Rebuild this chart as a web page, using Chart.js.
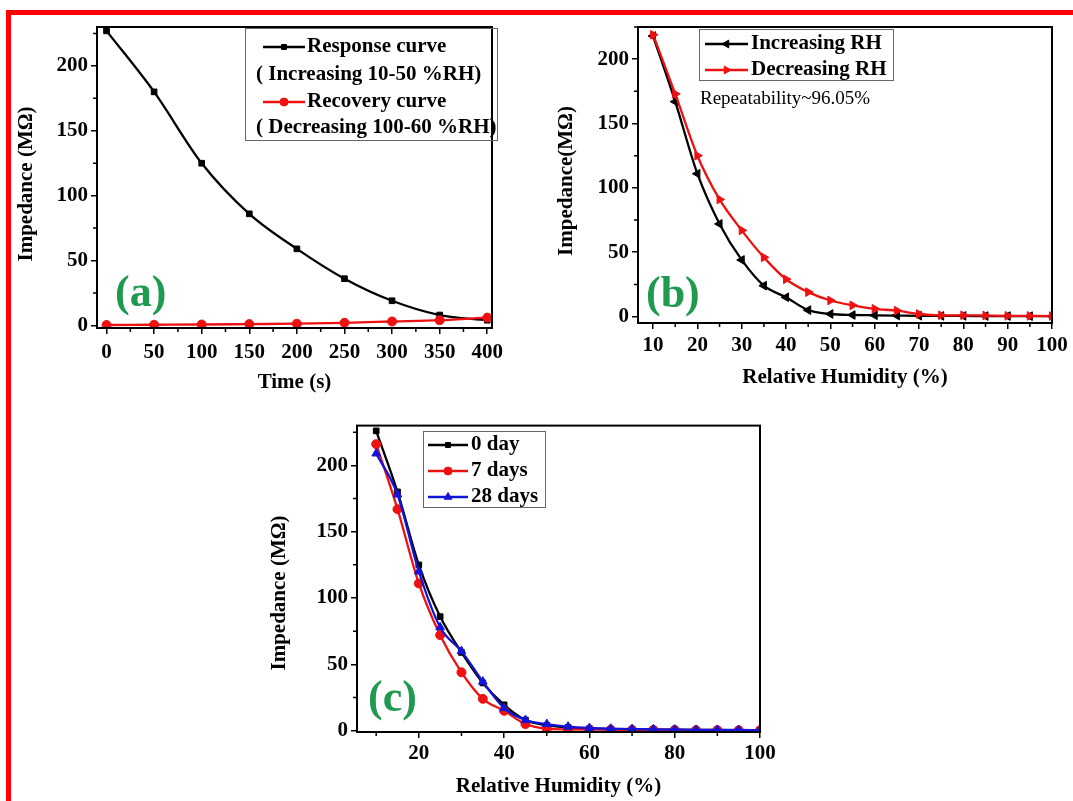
<!DOCTYPE html>
<html>
<head>
<meta charset="utf-8">
<script src="https://cdn.jsdelivr.net/npm/chart.js@4"></script>
<style>
    html, body { margin: 0; padding: 0; background: #fff; }
    body { width: 1073px; height: 801px; overflow: hidden; position: relative; }
    .cadre-rouge { position: absolute; left: 6px; top: 10px; width: 1200px; height: 900px;
                   border-top: 5px solid #ff0000; border-left: 5px solid #ff0000; }
    .bloc { position: absolute; }
</style>
</head>
<body>
<div class="cadre-rouge"></div>
<div class="bloc" style="left:0;top:0"><canvas id="graphiqueA" width="540" height="400"></canvas></div>
<div class="bloc" style="left:540px;top:0"><canvas id="graphiqueB" width="533" height="400"></canvas></div>
<div class="bloc" style="left:260px;top:410px"><canvas id="graphiqueC" width="520" height="391"></canvas></div>
<script>
// ── Données ────────────────────────────────────────────────────────────────

const temps          = [0, 50, 100, 150, 200, 250, 300, 350, 400];
const reponse        = [227, 180, 125, 86, 59, 36, 19, 8, 4];
const recuperation   = [0.3, 0.5, 0.7, 1.0, 1.3, 2.0, 3.0, 4.0, 6.0];

const humidite       = [10, 15, 20, 25, 30, 35, 40, 45, 50, 55, 60, 65, 70, 75, 80, 85, 90, 95, 100];
const rhMontante     = [218, 167, 111, 72, 44, 24, 15, 5, 2, 1.2, 1.0, 0.8, 0.6, 0.5, 0.5, 0.4, 0.4, 0.3, 0.3];
const rhDescendante  = [219, 173, 125, 91, 67, 46, 29, 19, 12.5, 8.7, 6, 4.6, 2, 1, 1, 0.8, 0.6, 0.5, 0.4];

const jour0          = [226, 180, 125, 86, 59, 36, 19.5, 8, 4, 2.5, 1.5, 1.2, 1, 0.8, 0.7, 0.6, 0.5, 0.4, 0.3];
const jour7          = [216, 167, 111, 72, 44, 24, 15, 5, 1.5, 1, 0.8, 0.7, 0.6, 0.5, 0.5, 0.4, 0.4, 0.3, 0.3];
const jour28         = [209, 178, 120, 78, 60, 37, 17, 8, 5, 3, 2, 1.5, 1.2, 1, 0.8, 0.6, 0.5, 0.5, 0.3];

const ticksTemps          = [0, 50, 100, 150, 200, 250, 300, 350, 400];
const ticksTempsMineurs   = [25, 75, 125, 175, 225, 275, 325, 375];
const ticksImpedance      = [0, 50, 100, 150, 200];
const ticksImpMineurs     = [25, 75, 125, 175, 225];
const ticksHumidite10     = [10, 20, 30, 40, 50, 60, 70, 80, 90, 100];
const ticksHumMineurs5    = [15, 25, 35, 45, 55, 65, 75, 85, 95];
const ticksHumidite20     = [20, 40, 60, 80, 100];
const ticksHumMineurs10   = [10, 30, 50, 70, 90];

const legendeA = ['Response curve', '( Increasing 10-50 %RH)', 'Recovery curve', '( Decreasing 100-60 %RH)'];
const legendeB = ['Increasing RH', 'Decreasing RH'];
const legendeC = ['0 day', '7 days', '28 days'];

// ── Styles communs ─────────────────────────────────────────────────────────

const SERIF = '"Liberation Serif", "DejaVu Serif", serif';
const policeGras = { family: SERIF, size: 21, weight: 'bold' };
const VERT = '#1f9a50';

const points = (xs, ys) => xs.map((x, i) => ({ x, y: ys[i] }));

function serie(label, donnees, couleur, style, rayon, rotation, ordre) {
    return {
        label, data: donnees,
        borderColor: couleur, backgroundColor: couleur,
        borderWidth: 2.3, pointStyle: style, pointRadius: rayon, pointRotation: rotation || 0,
        pointBorderWidth: 1, cubicInterpolationMode: 'monotone', order: ordre,
    };
}

function axeX(min, max, majeurs, titre, hauteur, padTitre, padTicks) {
    return {
        type: 'linear', min, max,
        afterBuildTicks: s => { s.ticks = majeurs.map(v => ({ value: v })); },
        afterFit: s => { s.height = hauteur; },
        grid: { drawOnChartArea: false, drawTicks: true, tickLength: 6, color: '#000', lineWidth: 1.5 },
        border: { display: true, color: '#000', width: 2 },
        ticks: { color: '#000', font: policeGras, padding: padTicks, autoSkip: false, maxRotation: 0 },
        title: { display: true, text: titre, color: '#000', font: policeGras, padding: { top: 0, bottom: padTitre } },
    };
}

function axeY(min, max, largeur) {
    return {
        type: 'linear', min, max,
        afterBuildTicks: s => { s.ticks = ticksImpedance.map(v => ({ value: v })); },
        afterFit: s => { s.width = largeur; },
        grid: { drawOnChartArea: false, drawTicks: true, tickLength: 6, color: '#000', lineWidth: 1.5 },
        border: { display: true, color: '#000', width: 2 },
        ticks: { color: '#000', font: policeGras, padding: 3, autoSkip: false },
    };
}

// cadre complet, petites graduations et titre vertical
const pluginCadre = {
    id: 'cadre',
    afterDraw(chart, args, opts) {
        const { ctx, chartArea: a, scales } = chart;
        ctx.save();
        ctx.strokeStyle = '#000';
        ctx.lineWidth = 2;
        ctx.strokeRect(a.left, a.top, a.right - a.left, a.bottom - a.top);
        ctx.lineWidth = 1.5;
        ctx.beginPath();
        (opts.mineursX || []).forEach(v => {
            const x = scales.x.getPixelForValue(v);
            ctx.moveTo(x, a.bottom); ctx.lineTo(x, a.bottom + 4);
        });
        (opts.mineursY || []).forEach(v => {
            if (v > scales.y.max) return;
            const y = scales.y.getPixelForValue(v);
            ctx.moveTo(a.left, y); ctx.lineTo(a.left - 4, y);
        });
        ctx.stroke();
        if (opts.titreY) {
            ctx.translate(opts.titreY.x, opts.titreY.y);
            ctx.rotate(-Math.PI / 2);
            ctx.font = `bold 21px ${SERIF}`;
            ctx.fillStyle = '#000';
            ctx.textAlign = 'center';
            ctx.textBaseline = 'middle';
            ctx.fillText(opts.titreY.texte, 0, 0);
        }
        ctx.restore();
    }
};

// légende encadrée, étiquette verte et annotations
const pluginLegende = {
    id: 'legende',
    afterDraw(chart, args, opts) {
        if (!opts.boite) return;
        const ctx = chart.ctx;
        const [bx, by, bw, bh] = opts.boite;
        ctx.save();
        ctx.strokeStyle = '#666';
        ctx.lineWidth = 1;
        ctx.strokeRect(bx + 0.5, by + 0.5, bw, bh);
        ctx.font = `bold 21px ${SERIF}`;
        ctx.textBaseline = 'middle';
        opts.lignes.forEach(l => {
            if (l.serie !== undefined) {
                const ds = chart.data.datasets[l.serie];
                const [x1, x2] = opts.echantillon;
                ctx.strokeStyle = ds.borderColor;
                ctx.lineWidth = 2.3;
                ctx.beginPath(); ctx.moveTo(x1, l.y); ctx.lineTo(x2, l.y); ctx.stroke();
                ctx.fillStyle = ds.backgroundColor;
                ctx.lineWidth = 1;
                Chart.helpers.drawPoint(ctx, {
                    pointStyle: ds.pointStyle, radius: ds.pointRadius - 0.5,
                    rotation: ds.pointRotation, borderWidth: 1,
                }, (x1 + x2) / 2, l.y);
            }
            ctx.fillStyle = '#000';
            ctx.fillText(l.texte, l.x, l.y);
        });
        if (opts.note) {
            ctx.font = `19px ${SERIF}`;
            ctx.fillText(opts.note.texte, opts.note.x, opts.note.y);
        }
        if (opts.etiquette) {
            ctx.font = `bold 44px ${SERIF}`;
            ctx.fillStyle = VERT;
            ctx.fillText(opts.etiquette.texte, opts.etiquette.x, opts.etiquette.y);
        }
        ctx.restore();
    }
};

Chart.register(pluginCadre, pluginLegende);

function options(axes, padding, cadre, legende) {
    return {
        responsive: false,
        animation: false,
        layout: { padding },
        scales: axes,
        plugins: { legend: { display: false }, tooltip: { enabled: false }, cadre, legende },
    };
}

// ── (a) réponse / récupération ─────────────────────────────────────────────

function creerGraphiqueA() {
    new Chart(document.getElementById('graphiqueA'), {
        type: 'line',
        data: {
            datasets: [
                serie(legendeA[0], points(temps, reponse), '#000000', 'rect', 4, 0, 1),
                serie(legendeA[2], points(temps, recuperation), '#ee1111', 'circle', 4.5, 0, 0),
            ]
        },
        options: options(
            { x: axeX(-10, 405, ticksTemps, 'Time (s)', 72, 5, 6), y: axeY(-2, 230, 97) },
            { left: 0, right: 48, top: 27, bottom: 0 },
            { mineursX: ticksTempsMineurs, mineursY: ticksImpMineurs,
              titreY: { texte: 'Impedance (MΩ)', x: 27, y: 184 } },
            {
                boite: [245, 28, 252, 112],
                echantillon: [263, 305],
                lignes: [
                    { texte: legendeA[0], x: 307, y: 47, serie: 0 },
                    { texte: legendeA[1], x: 256, y: 75 },
                    { texte: legendeA[2], x: 307, y: 102, serie: 1 },
                    { texte: legendeA[3], x: 256, y: 128 },
                ],
                etiquette: { texte: '(a)', x: 115, y: 295 },
            }
        )
    });
}

// ── (b) répétabilité ───────────────────────────────────────────────────────

function creerGraphiqueB() {
    new Chart(document.getElementById('graphiqueB'), {
        type: 'line',
        data: {
            datasets: [
                serie(legendeB[0], points(humidite, rhMontante), '#000000', 'triangle', 5, -90, 1),
                serie(legendeB[1], points(humidite, rhDescendante), '#ee1111', 'triangle', 5, 90, 0),
            ]
        },
        options: options(
            { x: axeX(6.6, 100, ticksHumidite10, 'Relative Humidity (%)', 77, 10, 4), y: axeY(-5, 225, 98) },
            { left: 0, right: 21, top: 27, bottom: 0 },
            { mineursX: ticksHumMineurs5, mineursY: ticksImpMineurs,
              titreY: { texte: 'Impedance(MΩ)', x: 27, y: 181 } },
            {
                boite: [159, 29, 194, 51],
                echantillon: [165, 208],
                lignes: [
                    { texte: legendeB[0], x: 211, y: 44, serie: 0 },
                    { texte: legendeB[1], x: 211, y: 70, serie: 1 },
                ],
                note: { texte: 'Repeatability~96.05%', x: 160, y: 99 },
                etiquette: { texte: '(b)', x: 106, y: 296 },
            }
        )
    });
}

// ── (c) stabilité ──────────────────────────────────────────────────────────

function creerGraphiqueC() {
    new Chart(document.getElementById('graphiqueC'), {
        type: 'line',
        data: {
            datasets: [
                serie(legendeC[0], points(humidite, jour0), '#000000', 'rect', 4, 0, 2),
                serie(legendeC[1], points(humidite, jour7), '#ee1111', 'circle', 4.5, 0, 1),
                serie(legendeC[2], points(humidite, jour28), '#1414d8', 'triangle', 5, 0, 0),
            ]
        },
        options: options(
            { x: axeX(5.5, 100, ticksHumidite20, 'Relative Humidity (%)', 69, 2, 3), y: axeY(-1, 230, 97) },
            { left: 0, right: 20, top: 15, bottom: 0 },
            { mineursX: ticksHumMineurs10, mineursY: ticksImpMineurs,
              titreY: { texte: 'Impedance (MΩ)', x: 20, y: 183 } },
            {
                boite: [163, 21, 122, 76],
                echantillon: [168, 208],
                lignes: [
                    { texte: legendeC[0], x: 211, y: 35, serie: 0 },
                    { texte: legendeC[1], x: 211, y: 61, serie: 1 },
                    { texte: legendeC[2], x: 211, y: 87, serie: 2 },
                ],
                etiquette: { texte: '(c)', x: 108, y: 290 },
            }
        )
    });
}

document.addEventListener('DOMContentLoaded', () => {
    creerGraphiqueA();
    creerGraphiqueB();
    creerGraphiqueC();
});
</script>
</body>
</html>
